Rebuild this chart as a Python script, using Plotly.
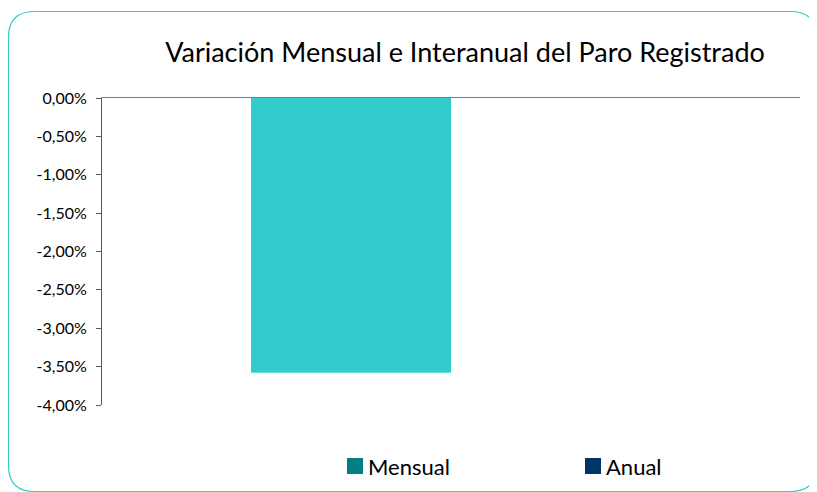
import plotly.graph_objects as go

categories = ["Paro registrado"]
series_names = ["Mensual", "Anual"]
mensual = [-0.0358]
anual = [0.0]
bar_colors = ["#33CCCC", "#003366"]
legend_colors = ["#008080", "#003366"]
title_text = "Variación Mensual e Interanual del Paro Registrado"
tick_vals = [0, -0.005, -0.01, -0.015, -0.02, -0.025, -0.03, -0.035, -0.04]
tick_text = ["0,00%", "-0,50%", "-1,00%", "-1,50%", "-2,00%", "-2,50%", "-3,00%", "-3,50%", "-4,00%"]

W, H = 817, 492
OFF = 8  # page offset of the figure div (browser body margin)
# plot area in page pixels: x 102..800, y 98..405
L, T = 102 - OFF, 98 - OFF
R, B = W - (800 - OFF), H - (405 - OFF)
pw, ph = W - L - R, H - T - B
FONT = "Lato, Open Sans, sans-serif"

def px(x):
    return (x - OFF - L) / pw

def py(y):
    return (H - B - (y - OFF)) / ph

fig = go.Figure()
for name, vals, col in zip(series_names, [mensual, anual], bar_colors):
    fig.add_trace(go.Bar(x=categories, y=vals, name=name, marker_color=col,
                         marker_line_width=0, showlegend=False))

shapes = []
annotations = []
# rounded border (page pixel coordinates)
x0, y0, x1, y1, r = 8.5, 11.5, 816.5, 491.5, 26
path = (f"M {px(x0)},{py(y0 + r)} L {px(x0)},{py(y1 - r)} "
        f"Q {px(x0)},{py(y1)} {px(x0 + r)},{py(y1)} L {px(x1 - r)},{py(y1)} "
        f"Q {px(x1)},{py(y1)} {px(x1)},{py(y1 - r)} L {px(x1)},{py(y0 + r)} "
        f"Q {px(x1)},{py(y0)} {px(x1 - r)},{py(y0)} L {px(x0 + r)},{py(y0)} "
        f"Q {px(x0)},{py(y0)} {px(x0)},{py(y0 + r)} Z")
shapes.append(dict(type="path", path=path, xref="paper", yref="paper",
                   line=dict(color="#33CCCC", width=1.2), layer="below"))

# legend (swatch + label)
for name, col, sx in zip(series_names, legend_colors, [347, 585]):
    shapes.append(dict(type="rect", xref="paper", yref="paper",
                       x0=px(sx), x1=px(sx + 16), y0=py(474), y1=py(458),
                       fillcolor=col, line=dict(width=0)))
    annotations.append(dict(text=name, xref="paper", yref="paper", x=px(sx + 19),
                            y=py(466), xanchor="left", yanchor="middle", showarrow=False,
                            font=dict(size=22, family=FONT, color="#000000")))

fig.update_layout(
    width=W, height=H,
    margin=dict(l=L, r=R, t=T, b=B, autoexpand=False),
    paper_bgcolor="white", plot_bgcolor="white",
    barmode="group", bargap=0.427, bargroupgap=0,
    font=dict(family=FONT, color="#000000"),
    title=dict(text=title_text, x=(465 - OFF) / W, xanchor="center", xref="container",
               y=1 - (53 - OFF) / H, yanchor="middle", yref="container",
               font=dict(size=27, family=FONT, color="#000000")),
    showlegend=False,
    shapes=shapes,
    annotations=annotations,
)
fig.update_xaxes(showticklabels=False, side="top", showline=True, linecolor="#7f7f7f",
                 linewidth=1, ticks="inside", ticklen=6, tickcolor="#7f7f7f",
                 tickson="boundaries", showgrid=False, zeroline=False, fixedrange=True)
fig.update_yaxes(range=[-0.04, 0], tickvals=tick_vals, ticktext=tick_text, showline=True,
                 linecolor="#595959", linewidth=1, ticks="outside", ticklen=5,
                 tickcolor="#595959", showgrid=False, zeroline=False, automargin=False,
                 tickfont=dict(size=16, family=FONT, color="#000000"),
                 ticklabelstandoff=6, fixedrange=True)

fig.write_html("out.html")
